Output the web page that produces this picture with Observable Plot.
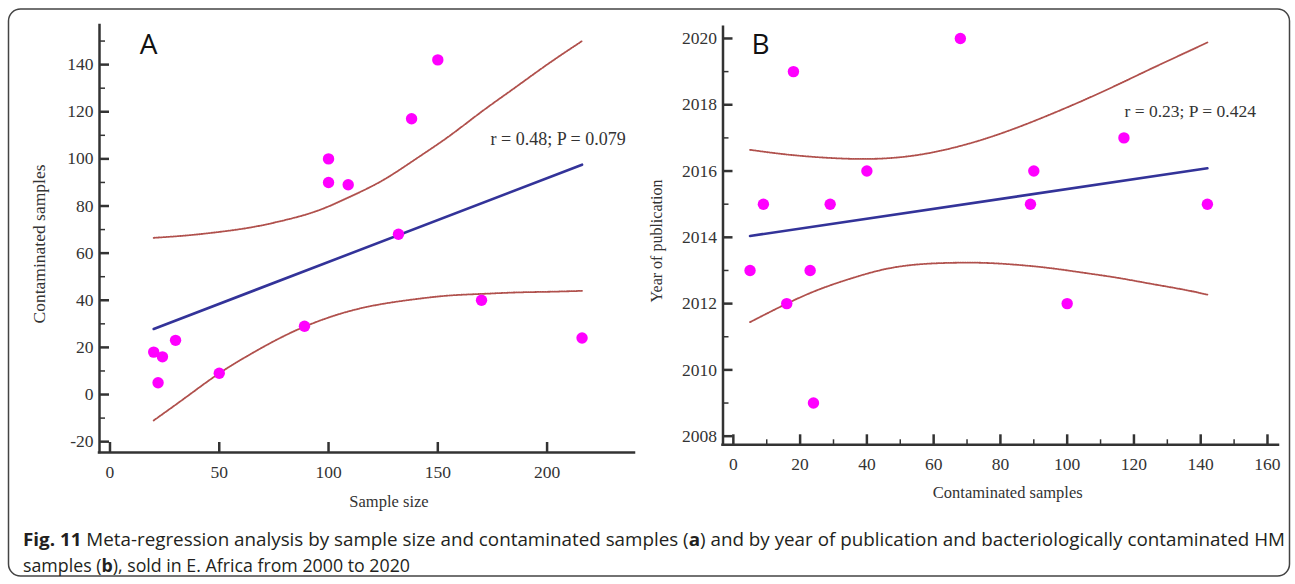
<!DOCTYPE html>
<html><head><meta charset="utf-8">
<script src="https://cdn.jsdelivr.net/npm/d3@7"></script>
<script src="https://cdn.jsdelivr.net/npm/@observablehq/plot@0.6"></script>
<style>
html,body{margin:0;padding:0;background:#fff;}
#wrap{position:relative;width:1295px;height:584px;overflow:hidden;background:#fff;}
#panelA{position:absolute;left:0;top:0;}
#panelB{position:absolute;left:650px;top:0;}
#deco{position:absolute;left:0;top:0;pointer-events:none;}
</style></head><body>
<div id="wrap">
  <div id="panelA"></div>
  <div id="panelB"></div>
  <svg id="deco" width="1295" height="584">
    <rect x="8.5" y="9" width="1281" height="567" rx="12" ry="12" fill="none" stroke="#444" stroke-width="1.5"></rect>
    <text x="23" y="546" font-family="'Open Sans', sans-serif" font-size="18" fill="#231f20" textLength="1262" lengthAdjust="spacingAndGlyphs"><tspan font-weight="bold">Fig. 11</tspan> Meta-regression analysis by sample size and contaminated samples (<tspan font-weight="bold">a</tspan>) and by year of publication and bacteriologically contaminated HM</text>
    <text x="23" y="572" font-family="'Open Sans', sans-serif" font-size="18" fill="#231f20" textLength="387" lengthAdjust="spacingAndGlyphs">samples (<tspan font-weight="bold">b</tspan>), sold in E. Africa from 2000 to 2020</text>
  </svg>
</div>
<script>
// ---------- Panel A data ----------
const sampleSize    = [20, 22, 24, 30, 50, 89, 100, 100, 109, 132, 138, 150, 170, 216];
const contaminatedA = [18, 5, 16, 23, 9, 29, 100, 90, 89, 68, 117, 142, 40, 24];
const bandAx     = [20, 35, 50, 65, 80, 95, 110, 125, 140, 155, 170, 185, 200, 216];
const bandAUpper = [66.5, 67.5, 69, 71, 74, 78, 84, 91, 100, 109.5, 120, 130, 140, 150];
const bandALower = [-11, -1, 9, 17.5, 25, 31, 35.5, 38.5, 40.5, 42, 42.7, 43.3, 43.6, 44];
const xTicksA = [0, 50, 100, 150, 200];
const yTicksA = [-20, 0, 20, 40, 60, 80, 100, 120, 140];
const yMinorA = [-10, 10, 30, 50, 70, 90, 110, 130, 150];
const xDomainA = [-4.8, 240];
const yDomainA = [-24.6, 156.6];
const statA = ["r = 0.48; P = 0.079"];

// ---------- Panel B data ----------
const contaminatedB = [5, 9, 16, 18, 23, 24, 29, 40, 68, 89, 90, 100, 117, 142];
const pubYear       = [2013, 2015, 2012, 2019, 2013, 2009, 2015, 2016, 2020, 2015, 2016, 2012, 2017, 2015];
const bandBx     = [5, 15, 25, 35, 45, 55, 65, 75, 85, 95, 105, 115, 125, 135, 142];
const bandBUpper = [2016.64, 2016.51, 2016.42, 2016.37, 2016.38, 2016.48, 2016.68, 2016.96, 2017.31, 2017.71, 2018.14, 2018.6, 2019.08, 2019.55, 2019.88];
const bandBLower = [2011.44, 2011.95, 2012.4, 2012.75, 2013.03, 2013.18, 2013.23, 2013.23, 2013.17, 2013.07, 2012.93, 2012.78, 2012.6, 2012.42, 2012.27];
const xTicksB = [0, 20, 40, 60, 80, 100, 120, 140, 160];
const xMinorB = [10, 30, 50, 70, 90, 110, 130, 150];
const yTicksB = [2008, 2010, 2012, 2014, 2016, 2018, 2020];
const yMinorB = [2009, 2011, 2013, 2015, 2017, 2019];
const xDomainB = [-3.1, 163.3];
const yDomainB = [2007.74, 2020.34];
const statB = ["r = 0.23; P = 0.424"];

// ---------- styles ----------
const serif = "'Liberation Serif', 'Times New Roman', serif";
const axisColor = "#333";
const dotColor = "#ff00ff";
const lineColor = "#333399";
const bandColor = "#b0504c";

const dataA = sampleSize.map((x, i) => ({x, y: contaminatedA[i]}));
const bandA = bandAx.map((x, i) => ({x, up: bandAUpper[i], lo: bandALower[i]}));
const dataB = contaminatedB.map((x, i) => ({x, y: pubYear[i]}));
const bandB = bandBx.map((x, i) => ({x, up: bandBUpper[i], lo: bandBLower[i]}));

const fmt = d => String(d);
const bandStyle = {stroke: bandColor, strokeWidth: 1.8, strokeDasharray: "1.2,1.2", curve: "natural"};
const tickFont = 17.5;
const textOpts = {textAnchor: "middle", lineAnchor: "middle", fill: "#333"};

const plotA = Plot.plot({
  width: 650, height: 500,
  marginLeft: 99, marginRight: 16, marginTop: 25, marginBottom: 48,
  x: {domain: xDomainA},
  y: {domain: yDomainA},
  style: {fontFamily: serif, fontSize: "17px", color: axisColor, background: "none", overflow: "visible"},
  marks: [
    Plot.axisY({ticks: yTicksA, tickSize: -10, tickPadding: 16, strokeWidth: 2.5, label: null, tickFormat: fmt, fontSize: tickFont}),
    Plot.axisY({ticks: yMinorA, tickSize: -6, tickPadding: 0, strokeWidth: 1.5, label: null, tickFormat: () => ""}),
    Plot.axisX({ticks: xTicksA, tickSize: -10, tickPadding: 23, strokeWidth: 2.5, label: null, tickFormat: fmt, fontSize: tickFont}),
    Plot.ruleX([xDomainA[0]], {stroke: axisColor, strokeWidth: 2.5, strokeLinecap: "square"}),
    Plot.ruleY([yDomainA[0]], {stroke: axisColor, strokeWidth: 2.5, strokeLinecap: "square"}),
    Plot.line(bandA, {x: "x", y: "up", ...bandStyle}),
    Plot.line(bandA, {x: "x", y: "lo", ...bandStyle}),
    Plot.linearRegressionY(dataA, {x: "x", y: "y", stroke: lineColor, strokeWidth: 2.6, ci: 0}),
    Plot.dot(dataA, {x: "x", y: "y", r: 5.7, fill: dotColor, stroke: "none"}),
    Plot.text(statA, {frameAnchor: "top-left", dx: 391, dy: 114, ...textOpts, textAnchor: "start", fontSize: 18}),
    Plot.text(["A"], {frameAnchor: "top-left", dx: 49, dy: 20, ...textOpts, fill: "#111", fontFamily: "'Open Sans', sans-serif", fontSize: 28}),
    Plot.text(["Sample size"], {frameAnchor: "bottom", dx: 22, dy: 49, ...textOpts, fontSize: 16.5}),
    Plot.text(["Contaminated samples"], {frameAnchor: "left", dx: -60, dy: 5, rotate: -90, ...textOpts, fontSize: 17.5})
  ]
});
document.getElementById("panelA").appendChild(plotA);

const plotB = Plot.plot({
  width: 645, height: 500,
  marginLeft: 72.5, marginRight: 17, marginTop: 26.7, marginBottom: 55.7,
  x: {domain: xDomainB},
  y: {domain: yDomainB},
  style: {fontFamily: serif, fontSize: "17px", color: axisColor, background: "none", overflow: "visible"},
  marks: [
    Plot.axisY({ticks: yTicksB, tickSize: -10, tickPadding: 16, strokeWidth: 2.5, label: null, tickFormat: fmt, fontSize: tickFont}),
    Plot.axisY({ticks: yMinorB, tickSize: -6, tickPadding: 0, strokeWidth: 1.5, label: null, tickFormat: () => ""}),
    Plot.axisX({ticks: xTicksB, tickSize: -10, tickPadding: 23, strokeWidth: 2.5, label: null, tickFormat: fmt, fontSize: tickFont}),
    Plot.axisX({ticks: xMinorB, tickSize: -5, tickPadding: 0, strokeWidth: 1.5, label: null, tickFormat: () => ""}),
    Plot.ruleX([xDomainB[0]], {stroke: axisColor, strokeWidth: 2.5, strokeLinecap: "square"}),
    Plot.ruleY([yDomainB[0]], {stroke: axisColor, strokeWidth: 2.5, strokeLinecap: "square"}),
    Plot.line(bandB, {x: "x", y: "up", ...bandStyle}),
    Plot.line(bandB, {x: "x", y: "lo", ...bandStyle}),
    Plot.linearRegressionY(dataB, {x: "x", y: "y", stroke: lineColor, strokeWidth: 2.6, ci: 0}),
    Plot.dot(dataB, {x: "x", y: "y", r: 5.7, fill: dotColor, stroke: "none"}),
    Plot.text(statB, {frameAnchor: "top-left", dx: 401.5, dy: 84.3, ...textOpts, textAnchor: "start", fontSize: 17.5}),
    Plot.text(["B"], {frameAnchor: "top-left", dx: 37.5, dy: 18.3, ...textOpts, fill: "#111", fontFamily: "'Open Sans', sans-serif", fontSize: 28}),
    Plot.text(["Contaminated samples"], {frameAnchor: "bottom", dx: 7, dy: 47.5, ...textOpts, fontSize: 16.5}),
    Plot.text(["Year of publication"], {frameAnchor: "left", dx: -66, dy: 5, rotate: -90, ...textOpts, fontSize: 16})
  ]
});
document.getElementById("panelB").appendChild(plotB);
</script>
</body></html>
